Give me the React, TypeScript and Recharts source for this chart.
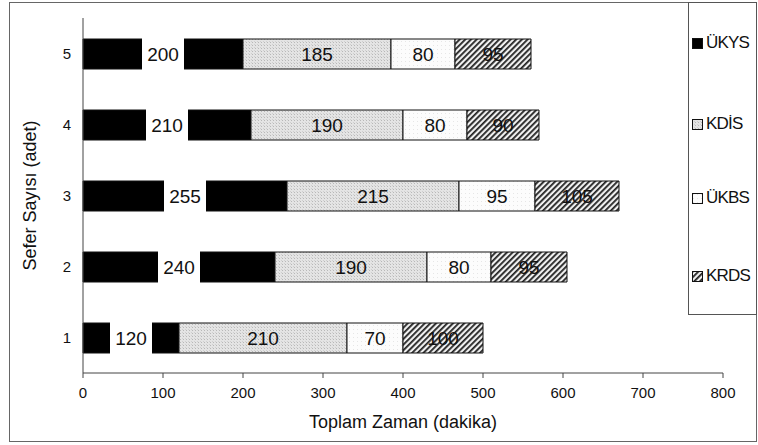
import React from 'react';
import {
  BarChart,
  Bar,
  XAxis,
  YAxis,
  Legend,
  LabelList,
} from 'recharts';

// sefer sayisi (kategoriler) ve her seri icin dakika degerleri
const categories = ['1', '2', '3', '4', '5'];
const ukys = [120, 240, 255, 210, 200];
const kdis = [210, 190, 215, 190, 185];
const ukbs = [70, 80, 95, 80, 80];
const krds = [100, 95, 105, 90, 95];
const xTicks = [0, 100, 200, 300, 400, 500, 600, 700, 800];

const seriesNames = ['ÜKYS', 'KDİS', 'ÜKBS', 'KRDS'];
const seriesKeys = ['ukys', 'kdis', 'ukbs', 'krds'];
const seriesFills = ['#000', 'url(#kdisPat)', 'url(#ukbsPat)', 'url(#krdsPat)'];

const data = categories.map((c, i) => ({
  name: c,
  ukys: ukys[i],
  kdis: kdis[i],
  ukbs: ukbs[i],
  krds: krds[i],
}));

const FONT = '"Liberation Sans", Arial, sans-serif';

// ÜKYS degeri, siyah cubugun ortasinda beyaz kutu icinde
const BlackLabel = (props: any) => {
  const { x, y, width, height, value } = props;
  const cx = Number(x) + Number(width) / 2;
  return (
    <g>
      <rect x={cx - 21} y={Number(y) - 1} width={42} height={Number(height) + 2} fill="#fff" />
      <text
        x={cx}
        y={Number(y) + Number(height) / 2}
        dy="0.36em"
        textAnchor="middle"
        fontSize={19}
        fill="#111"
      >
        {value}
      </text>
    </g>
  );
};

const legendY = [42, 123, 197, 275];

const LegendBox = () => (
  <div style={{ position: 'relative', width: '100%', height: '100%', fontFamily: FONT }}>
    {seriesNames.map((n, i) => (
      <div
        key={n}
        style={{
          position: 'absolute',
          left: 3,
          top: legendY[i] - 2 - 10,
          height: 20,
          display: 'flex',
          alignItems: 'center',
          fontSize: 17,
          color: '#111',
          letterSpacing: -0.8,
          whiteSpace: 'nowrap',
        }}
      >
        <svg width={11} height={11} style={{ marginRight: 3 }}>
          <rect x={0.5} y={0.5} width={10} height={10} fill={seriesFills[i]} stroke="#111" />
        </svg>
        {n}
      </div>
    ))}
  </div>
);

export default function App() {
  return (
    <div style={{ position: 'absolute', left: 0, top: 0, width: 758, height: 445, fontFamily: FONT }}>
      <div
        style={{
          position: 'absolute',
          left: 9,
          top: 2,
          width: 748,
          height: 440,
          border: '1px solid #666',
          boxSizing: 'border-box',
        }}
      />
      <BarChart
        width={758}
        height={445}
        data={data}
        layout="vertical"
        margin={{ top: 18, right: 35, bottom: 0, left: 0 }}
        barSize={30}
      >
        <defs>
          <pattern id="kdisPat" width={3} height={3} patternUnits="userSpaceOnUse">
            <rect width={3} height={3} fill="#e4e4e4" />
            <rect x={0} y={0} width={1} height={1} fill="#b8b8b8" />
            <rect x={2} y={2} width={1} height={1} fill="#cfcfcf" />
          </pattern>
          <pattern id="ukbsPat" width={4} height={4} patternUnits="userSpaceOnUse">
            <rect width={4} height={4} fill="#fcfcfc" />
            <rect x={1} y={1} width={1} height={1} fill="#e6e6e6" />
          </pattern>
          <pattern
            id="krdsPat"
            width={4}
            height={4}
            patternUnits="userSpaceOnUse"
            patternTransform="rotate(45)"
          >
            <rect width={4} height={4} fill="#f0f0f0" />
            <rect x={0} y={0} width={1.8} height={4} fill="#222" />
          </pattern>
        </defs>
        <XAxis
          type="number"
          domain={[0, 800]}
          ticks={xTicks}
          height={72}
          tickSize={5}
          tickMargin={9}
          axisLine={{ stroke: '#444' }}
          tickLine={{ stroke: '#444' }}
          tick={{ fontSize: 15, fill: '#111' }}
          label={{
            value: 'Toplam Zaman (dakika)',
            position: 'insideBottom',
            offset: 17,
            fontSize: 18,
            fill: '#111',
          }}
        />
        <YAxis
          type="category"
          dataKey="name"
          reversed
          width={83}
          tickLine={false}
          tickMargin={6}
          axisLine={{ stroke: '#444' }}
          tick={{ fontSize: 15, fill: '#111' }}
          label={{
            value: 'Sefer Sayısı (adet)',
            angle: -90,
            position: 'center',
            dx: -12,
            fontSize: 18,
            fill: '#111',
          }}
        />
        <Legend
          layout="vertical"
          align="center"
          verticalAlign="middle"
          content={<LegendBox />}
          wrapperStyle={{
            left: 688,
            top: 2,
            width: 69,
            height: 313,
            border: '1px solid #555',
            boxSizing: 'border-box',
            background: '#fff',
          }}
        />
        {seriesKeys.map((k, i) => (
          <Bar
            key={k}
            dataKey={k}
            name={seriesNames[i]}
            stackId="a"
            fill={seriesFills[i]}
            stroke="#111"
            strokeWidth={1}
            isAnimationActive={false}
          >
            {k === 'ukys' ? (
              <LabelList dataKey={k} content={BlackLabel} />
            ) : (
              <LabelList dataKey={k} position="center" fill="#111" fontSize={19} />
            )}
          </Bar>
        ))}
      </BarChart>
    </div>
  );
}
